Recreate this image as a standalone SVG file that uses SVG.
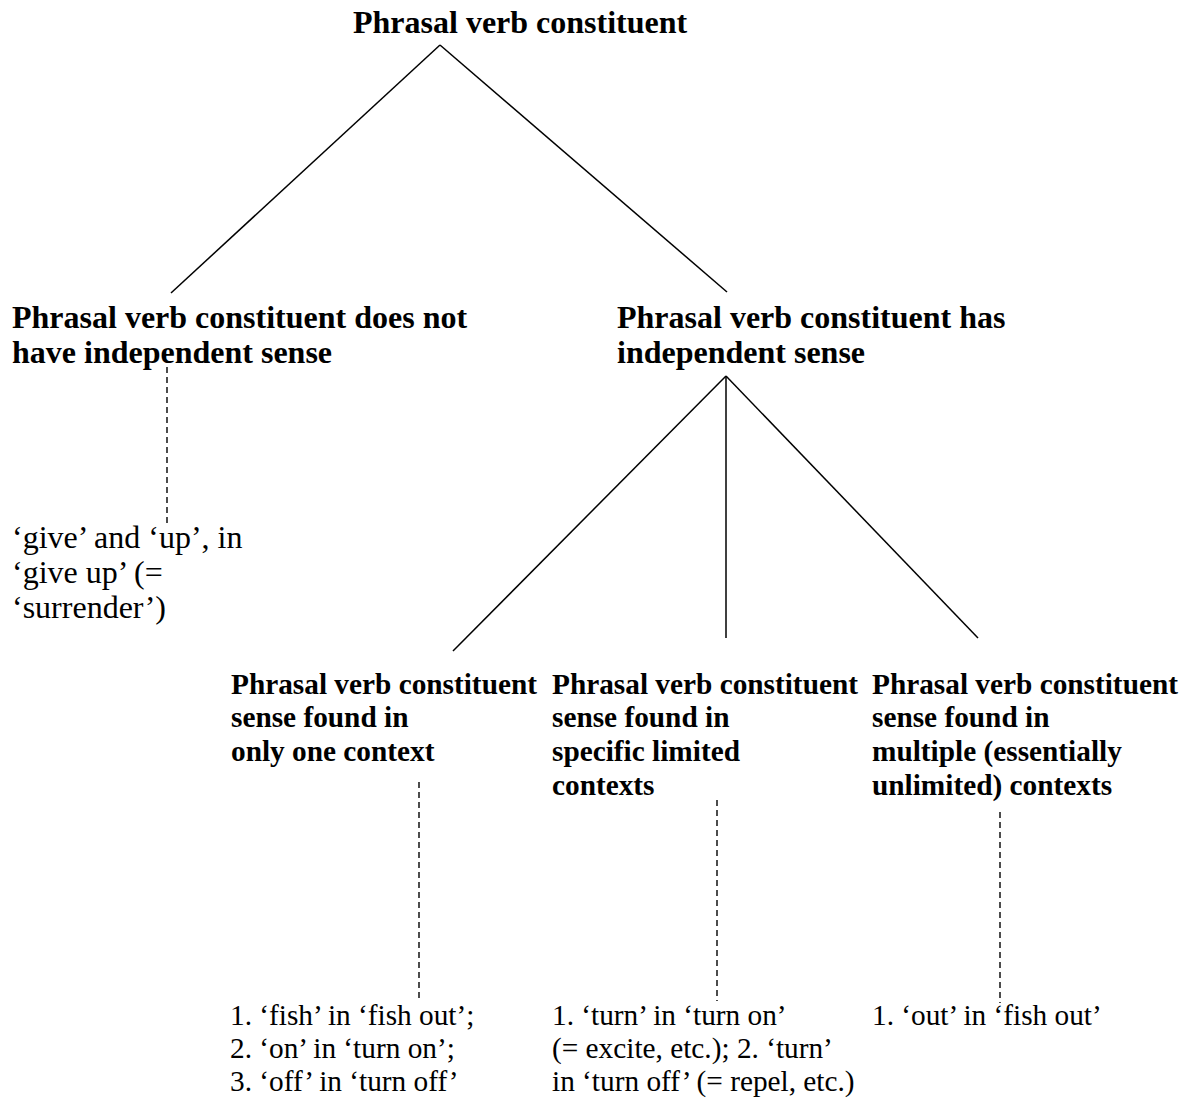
<svg xmlns="http://www.w3.org/2000/svg" width="1189" height="1104" viewBox="0 0 1189 1104">
  <style>
    text { font-family: "Liberation Serif", "Times New Roman", serif; font-size: 32px; fill: #000; }
    .b { font-weight: bold; }
    .sm { font-size: 29.3px; }
    .solid { stroke: #000; stroke-width: 1.5; fill: none; }
    .dash { stroke: #000; stroke-width: 1.4; fill: none; stroke-dasharray: 6 4; }
  </style>
  <rect width="1189" height="1104" fill="#fff"/>

  <!-- tree branches -->
  <g id="connectors">
    <line class="solid" x1="440" y1="45" x2="171" y2="293"/>
    <line class="solid" x1="440" y1="45" x2="727" y2="292"/>
    <line class="dash" x1="167" y1="367" x2="167" y2="523"/>
    <line class="solid" x1="726" y1="376" x2="453" y2="651"/>
    <line class="solid" x1="726" y1="376" x2="726" y2="638"/>
    <line class="solid" x1="726" y1="376" x2="978" y2="638"/>
    <line class="dash" x1="419" y1="782" x2="419" y2="1000"/>
    <line class="dash" x1="717" y1="800" x2="717" y2="1001"/>
    <line class="dash" x1="1000" y1="812" x2="1000" y2="1003"/>
  </g>

  <g id="root">
    <text class="b" x="353" y="33">Phrasal verb constituent</text>
  </g>

  <g id="no-sense">
    <text class="b" x="12" y="328">Phrasal verb constituent does not</text>
    <text class="b" x="12" y="363">have independent sense</text>
  </g>

  <g id="has-sense">
    <text class="b" x="617" y="328">Phrasal verb constituent has</text>
    <text class="b" x="617" y="363">independent sense</text>
  </g>

  <g id="example-give-up">
    <text x="12" y="548">‘give’ and ‘up’, in</text>
    <text x="12" y="583">‘give up’ (=</text>
    <text x="12" y="618">‘surrender’)</text>
  </g>

  <g id="one-context">
    <text class="b sm" x="231" y="694">Phrasal verb constituent</text>
    <text class="b sm" x="231" y="727">sense found in</text>
    <text class="b sm" x="231" y="761">only one context</text>
  </g>

  <g id="limited-contexts">
    <text class="b sm" x="552" y="694">Phrasal verb constituent</text>
    <text class="b sm" x="552" y="727">sense found in</text>
    <text class="b sm" x="552" y="761">specific limited</text>
    <text class="b sm" x="552" y="795">contexts</text>
  </g>

  <g id="multiple-contexts">
    <text class="b sm" x="872" y="694">Phrasal verb constituent</text>
    <text class="b sm" x="872" y="727">sense found in</text>
    <text class="b sm" x="872" y="761">multiple (essentially</text>
    <text class="b sm" x="872" y="795">unlimited) contexts</text>
  </g>

  <g id="example-one">
    <text class="sm" x="230" y="1025">1. ‘fish’ in ‘fish out’;</text>
    <text class="sm" x="230" y="1058">2. ‘on’ in ‘turn on’;</text>
    <text class="sm" x="230" y="1091">3. ‘off’ in ‘turn off’</text>
  </g>

  <g id="example-limited">
    <text class="sm" x="552" y="1025">1. ‘turn’ in ‘turn on’</text>
    <text class="sm" x="552" y="1058">(= excite, etc.); 2. ‘turn’</text>
    <text class="sm" x="552" y="1091">in ‘turn off’ (= repel, etc.)</text>
  </g>

  <g id="example-multiple">
    <text class="sm" x="872" y="1025">1. ‘out’ in ‘fish out’</text>
  </g>
</svg>
